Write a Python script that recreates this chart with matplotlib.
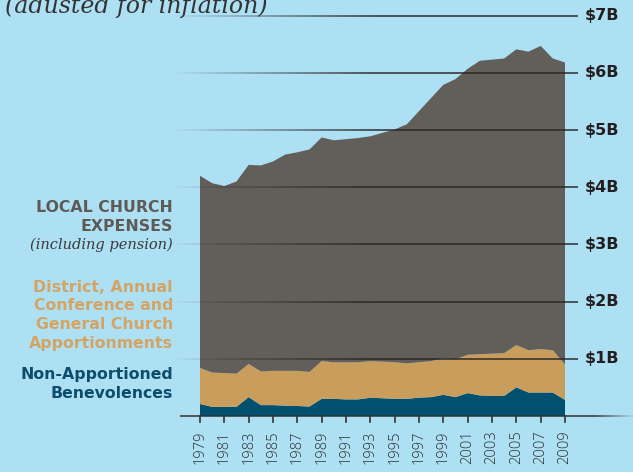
import matplotlib
matplotlib.use("Agg")
import matplotlib.pyplot as plt
import numpy as np
from matplotlib.collections import LineCollection

# --- data (billions of dollars, adjusted for inflation) ---------------------
years = list(range(1979, 2010))
benevolences = [0.21, 0.16, 0.16, 0.16, 0.33, 0.19, 0.19, 0.18, 0.175, 0.165,
                0.30, 0.30, 0.29, 0.29, 0.32, 0.31, 0.30, 0.30, 0.32, 0.33,
                0.37, 0.33, 0.40, 0.36, 0.35, 0.35, 0.50, 0.41, 0.41, 0.41, 0.28]
apportionments = [0.63, 0.60, 0.59, 0.58, 0.58, 0.59, 0.60, 0.61, 0.615, 0.605,
                  0.66, 0.64, 0.65, 0.65, 0.64, 0.64, 0.64, 0.62, 0.62, 0.63,
                  0.64, 0.66, 0.67, 0.72, 0.74, 0.75, 0.74, 0.74, 0.76, 0.74, 0.62]
local_expenses = [3.36, 3.31, 3.27, 3.36, 3.48, 3.60, 3.66, 3.78, 3.82, 3.89,
                  3.91, 3.88, 3.90, 3.92, 3.93, 4.00, 4.07, 4.18, 4.39, 4.60,
                  4.78, 4.90, 5.00, 5.13, 5.14, 5.15, 5.17, 5.22, 5.30, 5.10, 5.28]
grid_values = [1, 2, 3, 4, 5, 6, 7]
grid_labels = ["$1B", "$2B", "$3B", "$4B", "$5B", "$6B", "$7B"]
tick_years = list(range(1979, 2010, 2))

# --- palette ------------------------------------------------------------------
BG = "#AEE0F4"
GRAY = "#625E59"
TAN = "#C99D5C"
TEAL = "#00506F"
INK = "#231F20"
GRAY_TXT = "#5E5A56"
TAN_TXT = "#D4A464"
TEAL_TXT = "#0B4D6B"
BOLD = "DejaVu Sans"

W, H = 633, 472
fig = plt.figure(figsize=(W / 100, H / 100), dpi=100)
fig.patch.set_facecolor(BG)
ax = fig.add_axes([0, 0, 1, 1])
ax.set_facecolor(BG)

# pixel mapping: 1979 at x=200, 2009 at x=565; $0 at y=416, $1B per 57.2 px
px_per_year = (565 - 200) / 30
px_per_b = 57.2
ax.set_xlim(1979 - 200 / px_per_year, 1979 + (W - 200) / px_per_year)
ax.set_ylim(-(H - 416) / px_per_b, 416 / px_per_b)
ax.axis("off")


def fx(x):
    return x / W


def fy(y):
    return 1 - y / H


ax.stackplot(years, benevolences, apportionments, local_expenses,
             colors=[TEAL, TAN, GRAY], linewidth=0, zorder=2)

# grid lines fading in from the left
left = ax.get_xlim()[0]
x0, x1 = left + 170 / px_per_year, left + 578 / px_per_year
xs = np.linspace(x0, x1, 120)
for v, lab in zip(grid_values, grid_labels):
    segs = [[(xs[i], v), (xs[i + 1], v)] for i in range(len(xs) - 1)]
    alphas = np.clip((xs[:-1] - x0) / (200 / px_per_year), 0, 1) * 0.8
    cols = [(0.15, 0.14, 0.14, a) for a in alphas]
    ax.add_collection(LineCollection(segs, colors=cols, linewidths=1.3, zorder=3))
    ax.text(x1 + 7 / px_per_year, v, lab, fontsize=11.5, fontweight="bold",
            color=INK, va="center", ha="left", family=BOLD, zorder=4)

# baseline
bx = np.linspace(left + 180 / px_per_year, ax.get_xlim()[1], 100)
segs = [[(bx[i], 0), (bx[i + 1], 0)] for i in range(len(bx) - 1)]
alphas = np.clip((bx[-1] - bx[:-1]) / (40 / px_per_year), 0, 1) * 0.85
ax.add_collection(LineCollection(segs, colors=[(0.2, 0.2, 0.2, a) for a in alphas],
                                 linewidths=1.3, zorder=3))

# ticks and rotated year labels
for yr in tick_years:
    ax.plot([yr, yr], [0, -6 / px_per_b], color="#333333", lw=1.2, zorder=3)
    ax.text(yr, -14 / px_per_b, str(yr), rotation=90, fontsize=10.5,
            fontweight="light", color="#2e2e2e", ha="center", va="top",
            family="Open Sans")

# title fragment at top (cut off by the frame)
fig.text(fx(5), fy(13), "(adusted for inflation)", fontsize=17, style="italic",
         color="#333333", family="DejaVu Serif", va="baseline", ha="left")

# left-hand legend labels
RX = fx(173)
LS = 11.3
fig.text(RX, fy(207), "LOCAL CHURCH", fontsize=LS, fontweight="bold",
         color=GRAY_TXT, ha="right", va="center", family=BOLD)
fig.text(RX, fy(226), "EXPENSES", fontsize=LS, fontweight="bold",
         color=GRAY_TXT, ha="right", va="center", family=BOLD)
fig.text(RX, fy(245), "(including pension)", fontsize=10.5, style="italic",
         color="#3a3a3a", ha="right", va="center", family="DejaVu Serif")
for i, line in enumerate(["District, Annual", "Conference and",
                          "General Church", "Apportionments"]):
    fig.text(RX, fy(287 + 18.7 * i), line, fontsize=LS, fontweight="bold",
             color=TAN_TXT, ha="right", va="center", family=BOLD)
for i, line in enumerate(["Non-Apportioned", "Benevolences"]):
    fig.text(RX, fy(375 + 19 * i), line, fontsize=LS, fontweight="bold",
             color=TEAL_TXT, ha="right", va="center", family=BOLD)

fig.savefig("out.png", dpi=100, facecolor=BG)
